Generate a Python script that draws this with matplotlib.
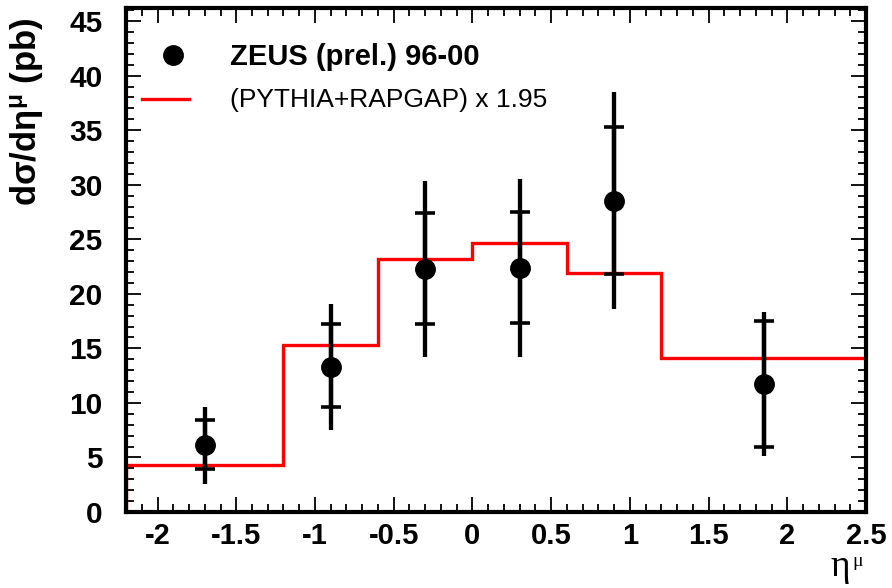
import matplotlib
matplotlib.use("Agg")
import matplotlib.pyplot as plt
from matplotlib.ticker import MultipleLocator
import numpy as np

plt.rcParams['font.family'] = ['Liberation Sans', 'DejaVu Sans']
plt.rcParams['mathtext.default'] = 'regular'

# Data points (ZEUS prel. 96-00)
eta_pts = [-1.7, -0.9, -0.3, 0.3, 0.9, 1.85]
xsec = [6.1, 13.3, 22.3, 22.4, 28.5, 11.7]
stat_up = [2.3, 3.9, 5.1, 5.1, 6.8, 5.8]
stat_dn = [2.2, 3.7, 5.1, 5.1, 6.7, 5.7]
tot_up = [3.5, 5.8, 8.0, 8.1, 10.0, 6.6]
tot_dn = [3.5, 5.8, 8.1, 8.2, 9.9, 6.6]

# MC histogram (PYTHIA+RAPGAP) x 1.95
bin_edges = [-2.2, -1.2, -0.6, 0.0, 0.6, 1.2, 2.5]
mc_vals = [4.3, 15.3, 23.2, 24.7, 21.9, 14.1]

xtick_vals = [-2, -1.5, -1, -0.5, 0, 0.5, 1, 1.5, 2, 2.5]
xtick_labels = ['-2', '-1.5', '-1', '-0.5', '0', '0.5', '1', '1.5', '2', '2.5']

fig = plt.figure(figsize=(8.92, 5.88), dpi=100)
ax = fig.add_axes([0.1413, 0.1293, 0.9709 - 0.1413, 0.9864 - 0.1293])

# MC step histogram
ax.stairs(mc_vals, bin_edges, color='#ff0000', lw=2.4, baseline=0, zorder=2)

# total errors (no caps)
ax.errorbar(eta_pts, xsec, yerr=[tot_dn, tot_up], fmt='none', ecolor='black',
            elinewidth=3.1, capsize=0, zorder=3)
# statistical errors (caps)
ax.errorbar(eta_pts, xsec, yerr=[stat_dn, stat_up], fmt='none', ecolor='black',
            elinewidth=3.1, capsize=7.2, capthick=2.6, zorder=3)
ax.plot(eta_pts, xsec, 'o', color='black', ms=14, zorder=4)

ax.set_xlim(-2.2, 2.5)
ax.set_ylim(0, 46.2)
ax.set_xticks(xtick_vals)
ax.set_xticklabels(xtick_labels)
ax.xaxis.set_minor_locator(MultipleLocator(0.1))
ax.yaxis.set_major_locator(MultipleLocator(5))
ax.yaxis.set_minor_locator(MultipleLocator(1))

ax.tick_params(which='both', direction='in', top=True, right=True, width=1.3)
ax.tick_params(which='major', length=11)
ax.tick_params(which='minor', length=5.5)
ax.tick_params(axis='y', which='major', pad=17, labelsize=21.5)
ax.tick_params(axis='x', which='major', pad=7, labelsize=21)
for lab in ax.get_xticklabels() + ax.get_yticklabels():
    lab.set_fontweight('bold')

for sp in ax.spines.values():
    sp.set_linewidth(3.0)

ax.set_ylabel('dσ/dη$^{μ}$ (pb)', fontsize=25, fontweight='bold')
ax.yaxis.set_label_coords(-0.108, 0.795)

# x-axis label eta^mu (eta plus a small raised mu)
fig.text(850 / 892, 1 - 576 / 588, 'η', fontsize=27, ha='right', va='baseline',
         family='Liberation Serif')
fig.text(852 / 892, 1 - 566 / 588, 'μ', fontsize=14, ha='left', va='baseline',
         family='Liberation Serif')

# legend
ax.plot([-1.90], [41.9], 'o', color='black', ms=14, clip_on=False)
ax.text(-1.54, 41.7, 'ZEUS (prel.) 96-00', fontsize=21, fontweight='bold', va='center')
ax.plot([-2.098, -1.80], [37.85, 37.85], color='#ff0000', lw=2.4)
ax.text(-1.54, 37.8, '(PYTHIA+RAPGAP) x 1.95', fontsize=19, va='center')

fig.savefig('out.png', dpi=100)
